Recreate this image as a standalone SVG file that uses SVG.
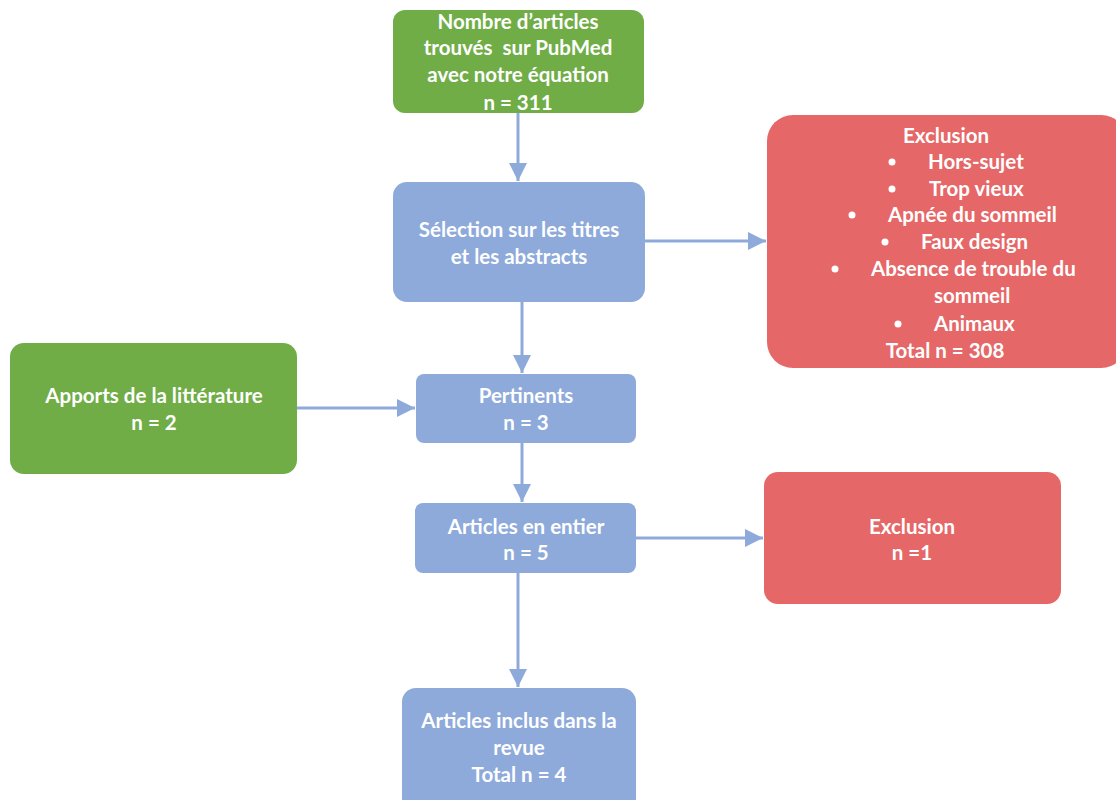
<svg xmlns="http://www.w3.org/2000/svg" width="1116" height="800" viewBox="0 0 1116 800">
<defs>
<style>
.t{font-family:Lato,"Open Sans","Liberation Sans",sans-serif;font-size:20.5px;font-weight:bold;fill:#fff;text-anchor:middle}
.tl{font-family:Lato,"Open Sans","Liberation Sans",sans-serif;font-size:20.5px;font-weight:bold;fill:#fff}
.g{fill:#70ad47}
.b{fill:#8eaadb}
.r{fill:#e66767}
</style>
<marker id="a" viewBox="0 0 10 10" refX="10" refY="5" markerWidth="20" markerHeight="18" markerUnits="userSpaceOnUse" orient="auto"><path d="M0,0 L10,5 L0,10 z" fill="#8eaadb"/></marker>
</defs>
<rect width="1116" height="800" fill="#fff"/>
<g id="connectors" stroke="#8eaadb" stroke-width="3" fill="none">
<line x1="518" y1="113" x2="518" y2="181" marker-end="url(#a)"/>
<line x1="522" y1="301" x2="522" y2="373" marker-end="url(#a)"/>
<line x1="645" y1="241" x2="766" y2="241" marker-end="url(#a)"/>
<line x1="297" y1="408" x2="415" y2="408" marker-end="url(#a)"/>
<line x1="522" y1="443" x2="522" y2="502" marker-end="url(#a)"/>
<line x1="635" y1="538" x2="763" y2="538" marker-end="url(#a)"/>
<line x1="518" y1="573" x2="518" y2="687" marker-end="url(#a)"/>
</g>
<g id="n1"><rect class="g" x="393" y="10" width="251" height="103" rx="12"/>
<text class="t" x="518" y="29">Nombre d’articles</text>
<text class="t" x="518" y="55" xml:space="preserve">trouvés  sur PubMed</text>
<text class="t" x="518" y="82">avec notre équation</text>
<text class="t" x="518" y="110">n = 311</text></g>
<g id="n2"><rect class="b" x="393" y="182" width="252" height="120" rx="14"/>
<text class="t" x="519" y="237">Sélection sur les titres</text>
<text class="t" x="519" y="264">et les abstracts</text></g>
<g id="n3"><rect class="r" x="767" y="115" width="360" height="253" rx="26"/>
<text class="t" x="946" y="143">Exclusion</text>
<circle cx="892" cy="162" r="3.5" fill="#fff"/><text class="tl" x="928" y="169">Hors-sujet</text>
<circle cx="892" cy="189" r="3.5" fill="#fff"/><text class="tl" x="929" y="196">Trop vieux</text>
<circle cx="852" cy="215" r="3.5" fill="#fff"/><text class="tl" x="888" y="222">Apnée du sommeil</text>
<circle cx="885" cy="242" r="3.5" fill="#fff"/><text class="tl" x="921" y="249">Faux design</text>
<circle cx="835" cy="269" r="3.5" fill="#fff"/><text class="tl" x="871" y="276">Absence de trouble du</text>
<text class="tl" x="934" y="303">sommeil</text>
<circle cx="898" cy="324" r="3.5" fill="#fff"/><text class="tl" x="934" y="331">Animaux</text>
<text class="t" x="945" y="358">Total n = 308</text></g>
<g id="n4"><rect class="g" x="10" y="343" width="287" height="131" rx="14"/>
<text class="t" x="154" y="403">Apports de la littérature</text>
<text class="t" x="154" y="430">n = 2</text></g>
<g id="n5"><rect class="b" x="416" y="374" width="220" height="69" rx="8"/>
<text class="t" x="526" y="403">Pertinents</text>
<text class="t" x="526" y="430">n = 3</text></g>
<g id="n6"><rect class="b" x="415" y="503" width="221" height="70" rx="8"/>
<text class="t" x="526" y="534">Articles en entier</text>
<text class="t" x="526" y="560">n = 5</text></g>
<g id="n7"><rect class="r" x="764" y="472" width="297" height="132" rx="14"/>
<text class="t" x="912" y="534">Exclusion</text>
<text class="t" x="912" y="560">n =1</text></g>
<g id="n8"><rect class="b" x="402" y="688" width="234" height="130" rx="14"/>
<text class="t" x="519" y="728">Articles inclus dans la</text>
<text class="t" x="519" y="755">revue</text>
<text class="t" x="519" y="782">Total n = 4</text></g>
</svg>
